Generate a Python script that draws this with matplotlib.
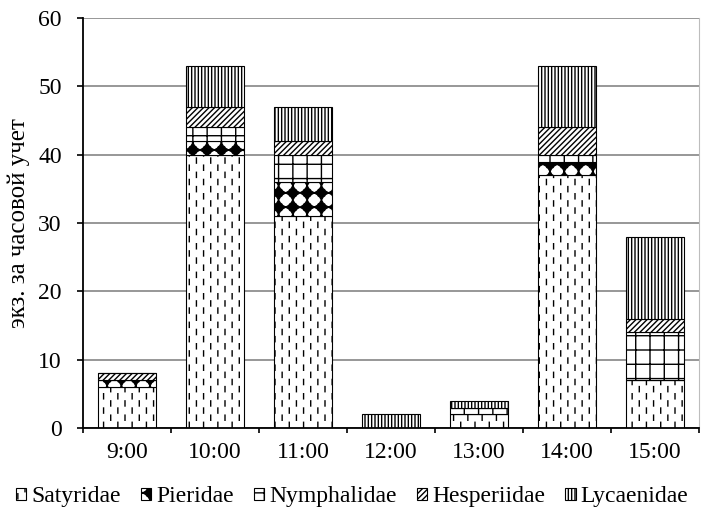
import warnings
import numpy as np
import matplotlib
matplotlib.use("Agg")
import matplotlib.pyplot as plt
from matplotlib import hatch as mhatch
from matplotlib.path import Path

warnings.filterwarnings("ignore")

# ---- data: butterflies counted per hourly census ----
hours = ["9:00", "10:00", "11:00", "12:00", "13:00", "14:00", "15:00"]
families = ["Satyridae", "Pieridae", "Nymphalidae", "Hesperiidae", "Lycaenidae"]
satyridae = [6, 40, 31, 0, 2, 37, 7]
pieridae = [1, 2, 5, 0, 0, 2, 0]
nymphalidae = [0, 2, 4, 0, 1, 1, 7]
hesperiidae = [1, 3, 2, 0, 0, 4, 2]
lycaenidae = [0, 6, 5, 2, 1, 9, 12]
ylabel = "экз. за часовой учет"


# ---- extra hatch patterns ----
class DashHatch(mhatch.HatchPatternBase):
    """Staggered short vertical dashes ('d')."""
    cols, rows = 14, 7

    def __init__(self, hatch, density):
        self.on = hatch.count("d") > 0
        self.num_vertices = 2 * self.cols * self.rows if self.on else 0

    def set_vertices_and_codes(self, vertices, codes):
        dx, dy = 1.0 / self.cols, 1.0 / self.rows
        ln = 0.36 * dy
        k = 0
        for i in range(self.cols):
            x = (i + 0.5) * dx
            shift = 0.5 * dy if i % 2 else 0.0
            for j in range(self.rows):
                y0 = j * dy + shift + 0.08 * dy
                vertices[k] = (x, y0)
                vertices[k + 1] = (x, y0 + ln)
                codes[k] = Path.MOVETO
                codes[k + 1] = Path.LINETO
                k += 2


class BlobHatch(mhatch.HatchPatternBase):
    """Filled four-pointed blobs on a square lattice ('p')."""
    n = 7
    nv = 16

    def __init__(self, hatch, density):
        self.on = hatch.count("p") > 0
        self.num_vertices = (self.nv + 1) * self.n * self.n if self.on else 0

    def set_vertices_and_codes(self, vertices, codes):
        s = 1.0 / self.n
        ang = np.arange(self.nv) * 2 * np.pi / self.nv
        rad = np.where(np.arange(self.nv) % 4 == 0, 0.5, 0.31) * s
        shape = np.column_stack([rad * np.cos(ang), rad * np.sin(ang)])
        shape = np.vstack([shape, shape[:1]])
        scodes = np.full(self.nv + 1, Path.LINETO, dtype=Path.code_type)
        scodes[0] = Path.MOVETO
        scodes[-1] = Path.CLOSEPOLY
        k = 0
        m = self.nv + 1
        for i in range(self.n):
            for j in range(self.n):
                c = np.array([(i + 0.5) * s, (j + 0.5) * s])
                vertices[k:k + m] = shape + c
                codes[k:k + m] = scodes
                k += m


class GridHatch(mhatch.HatchPatternBase):
    """Square grid ('g')."""
    n = 7

    def __init__(self, hatch, density):
        self.on = hatch.count("g") > 0
        self.num_vertices = 4 * self.n if self.on else 0

    def set_vertices_and_codes(self, vertices, codes):
        pos = (np.arange(self.n) + 0.5) / self.n
        k = 0
        for p in pos:
            vertices[k:k + 4] = [(p, 0.0), (p, 1.0), (0.0, p), (1.0, p)]
            codes[k:k + 4] = [Path.MOVETO, Path.LINETO, Path.MOVETO, Path.LINETO]
            k += 4


mhatch._hatch_types.extend([DashHatch, BlobHatch, GridHatch])

# ---- style ----
plt.rcParams["font.family"] = ["Liberation Serif", "DejaVu Serif"]
plt.rcParams["hatch.color"] = "black"
plt.rcParams["hatch.linewidth"] = 1.0

fig = plt.figure(figsize=(7.01, 5.18), dpi=100)
ax = fig.add_axes([83 / 701, 90 / 518, 616 / 701, 410 / 518])

series = [satyridae, pieridae, nymphalidae, hesperiidae, lycaenidae]
hatches = ["d", "p", "g", "//////", "|||||"]
x = np.arange(len(hours))
bottom = np.zeros(len(hours))
handles = []
for name, vals, h in zip(families, series, hatches):
    vals = np.asarray(vals, dtype=float)
    bars = ax.bar(x, vals, width=0.66, bottom=bottom, color="white",
                  edgecolor="black", linewidth=0.8, hatch=h, label=name,
                  zorder=3)
    handles.append(bars)
    bottom += vals

ax.set_xlim(-0.5, len(hours) - 0.5)
ax.set_ylim(0, 60)
ax.set_yticks(np.arange(0, 61, 10))
ax.yaxis.grid(True, color="#858585", linewidth=1.2, zorder=0)
ax.set_axisbelow(True)

ax.set_xticks(x)
ax.set_xticklabels(hours)
ax.set_xticks(np.arange(-0.5, len(hours)), minor=True)
ax.tick_params(axis="x", which="major", length=0, pad=10, labelsize=17)
ax.tick_params(axis="x", which="minor", length=3.8, width=1.2, direction="out")
ax.tick_params(axis="y", length=4.3, width=1.2, direction="out", pad=11,
               labelsize=17)

for side in ("left", "bottom"):
    ax.spines[side].set_linewidth(1.3)
    ax.spines[side].set_zorder(4)
ax.spines["top"].set_visible(False)
ax.spines["right"].set_color("#bdbdbd")
ax.spines["right"].set_linewidth(0.8)

ax.set_ylabel(ylabel, fontsize=18, labelpad=6)

fig.legend(handles=handles, labels=families, loc="center",
           bbox_to_anchor=(0.502, 0.041), ncol=5, frameon=False,
           fontsize=17, handlelength=0.45, handleheight=0.45,
           handletextpad=0.2, columnspacing=0.85, borderpad=0.2)

fig.savefig("out.png", dpi=100)
